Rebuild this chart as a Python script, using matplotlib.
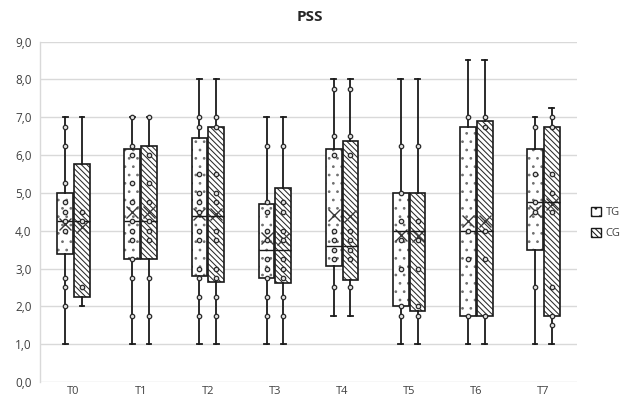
import matplotlib
matplotlib.use("Agg")
import matplotlib.pyplot as plt
from matplotlib.patches import Patch, PathPatch

plt.rcParams['font.family'] = ['Open Sans', 'DejaVu Sans']
plt.rcParams['hatch.linewidth'] = 0.75

categories = ["T0", "T1", "T2", "T3", "T4", "T5", "T6", "T7"]
y_ticks = [0, 1, 2, 3, 4, 5, 6, 7, 8, 9]
y_tick_labels = ["0,0", "1,0", "2,0", "3,0", "4,0", "5,0", "6,0", "7,0", "8,0", "9,0"]

# TG box statistics
tg_low  = [1.0, 1.0, 1.0, 1.0, 1.75, 1.0, 1.0, 1.0]
tg_q1   = [3.38, 3.25, 2.81, 2.75, 3.07, 2.0, 1.75, 3.5]
tg_med  = [4.25, 4.25, 4.4, 3.5, 3.6, 4.0, 4.0, 4.75]
tg_q3   = [5.0, 6.15, 6.45, 4.7, 6.15, 5.0, 6.75, 6.15]
tg_high = [7.0, 7.0, 8.0, 7.0, 8.0, 8.0, 8.5, 7.0]
tg_mean = [4.18, 4.5, 4.45, 3.8, 4.41, 3.88, 4.25, 4.52]
tg_points = [
    [6.75, 6.25, 5.25, 4.75, 4.5, 4.25, 4.0, 2.75, 2.5, 2.0],
    [7.0, 6.25, 6.0, 5.25, 4.75, 4.25, 4.0, 3.75, 3.25, 2.75, 1.75],
    [7.0, 6.75, 5.5, 5.0, 4.75, 4.5, 4.0, 3.75, 3.0, 2.75, 2.25, 1.75],
    [6.25, 4.75, 4.5, 4.0, 3.75, 3.25, 3.0, 2.75, 2.25, 1.75],
    [7.75, 6.5, 6.0, 4.0, 3.75, 3.5, 3.25, 2.5],
    [6.25, 5.0, 4.25, 3.75, 3.0, 2.0, 1.75],
    [7.0, 4.0, 3.25, 1.75],
    [6.75, 5.5, 4.75, 4.5, 2.5],
]

# CG box statistics
cg_low  = [2.0, 1.0, 1.0, 1.0, 1.75, 1.0, 1.0, 1.0]
cg_q1   = [2.25, 3.25, 2.63, 2.62, 2.69, 1.88, 1.75, 1.75]
cg_med  = [4.25, 4.25, 4.4, 3.5, 3.6, 4.0, 4.0, 4.75]
cg_q3   = [5.75, 6.25, 6.75, 5.13, 6.38, 5.0, 6.9, 6.75]
cg_high = [7.0, 7.0, 8.0, 7.0, 8.0, 8.0, 8.5, 7.25]
cg_mean = [4.1, 4.5, 4.45, 3.77, 4.4, 3.85, 4.25, 4.7]
cg_points = [
    [4.5, 4.25, 2.5],
    [7.0, 6.0, 5.25, 4.75, 4.25, 4.0, 3.75, 2.75, 1.75],
    [7.0, 6.75, 5.5, 5.0, 4.75, 4.0, 3.75, 3.0, 2.75, 2.25, 1.75],
    [6.25, 4.75, 4.5, 4.0, 3.75, 3.25, 3.0, 2.75, 2.25, 1.75],
    [7.75, 6.5, 6.0, 4.0, 3.75, 3.5, 3.25, 2.5],
    [6.25, 4.25, 3.75, 3.0, 2.0, 1.75],
    [7.0, 6.75, 4.0, 3.25, 1.75],
    [7.0, 6.75, 5.5, 5.0, 4.5, 2.5, 1.75, 1.5],
]

fig = plt.figure(figsize=(6.24, 4.0), dpi=100)
ax = fig.add_axes([40/624, 1-382/400, (577-40)/624, (382-41.5)/400])

width = 0.235
offsets = {"TG": -0.125, "CG": 0.125}
hatch_colors = {"TG": "#707070", "CG": "#2a2a2a"}
hatches = {"TG": '..', "CG": '\\\\\\\\\\\\'}

def make_stats(low, q1, med, q3, high, mean):
    return [dict(whislo=a, q1=b, med=c, q3=d, whishi=e, mean=f, fliers=[])
            for a, b, c, d, e, f in zip(low, q1, med, q3, high, mean)]

series = [
    ("TG", make_stats(tg_low, tg_q1, tg_med, tg_q3, tg_high, tg_mean), tg_points),
    ("CG", make_stats(cg_low, cg_q1, cg_med, cg_q3, cg_high, cg_mean), cg_points),
]

for name, stats, pts in series:
    pos = [i + offsets[name] for i in range(len(categories))]
    bp = ax.bxp(stats, positions=pos, widths=width, patch_artist=True,
                showmeans=True, showfliers=False, manage_ticks=False,
                boxprops=dict(facecolor='white', edgecolor=hatch_colors[name], linewidth=0,
                              hatch=hatches[name]),
                medianprops=dict(color='#1a1a1a', linewidth=1.0),
                whiskerprops=dict(color='#1a1a1a', linewidth=1.3),
                capprops=dict(color='#1a1a1a', linewidth=1.3),
                capwidths=0.07,
                meanprops=dict(marker='x', markeredgecolor='#3a3a3a', markersize=8, markeredgewidth=1.0))
    for b in bp['boxes']:
        b.set_zorder(2)
        outline = PathPatch(b.get_path(), transform=b.get_transform(), fill=False,
                            edgecolor='#1a1a1a', linewidth=1.2, zorder=2.5)
        ax.add_patch(outline)
    for m in bp['medians']:
        m.set_zorder(3)
    for p, vals in zip(pos, pts):
        ax.plot([p] * len(vals), vals, linestyle='none', marker='o', markersize=3.2,
                markerfacecolor='#e0e0e0', markeredgecolor='#2a2a2a', markeredgewidth=0.9, zorder=4)

ax.set_xlim(-0.5, len(categories) - 0.5)
ax.set_ylim(0, 9)
ax.set_yticks(y_ticks)
ax.set_yticklabels(y_tick_labels)
ax.set_xticks(range(len(categories)))
ax.set_xticklabels(categories)
ax.tick_params(axis='both', length=0, labelsize=8.5, colors='#404040')
ax.tick_params(axis='x', pad=3, labelsize=8)
ax.tick_params(axis='y', pad=6)
ax.grid(axis='y', color='#d9d9d9', linewidth=1.0)
ax.set_axisbelow(True)
for s in ['top', 'right', 'bottom']:
    ax.spines[s].set_visible(False)
ax.spines['left'].set_color('#d9d9d9')
ax.spines['left'].set_linewidth(1.0)

fig.text(310/624, 1-17/400, "PSS", ha='center', va='center', fontsize=11, fontweight='bold', color='#262626')

handles = [Patch(facecolor='white', edgecolor='#1a1a1a', hatch='..', label='TG'),
           Patch(facecolor='white', edgecolor='#1a1a1a', hatch=hatches["CG"], label='CG')]
fig.legend(handles=handles, loc='center left', bbox_to_anchor=(591/624, 1-223/400), frameon=False,
           borderpad=0, borderaxespad=0, fontsize=8, handlelength=0.9, handleheight=0.9,
           handletextpad=0.4, labelspacing=0.9, labelcolor='#404040')

fig.savefig("out.png", dpi=100)
